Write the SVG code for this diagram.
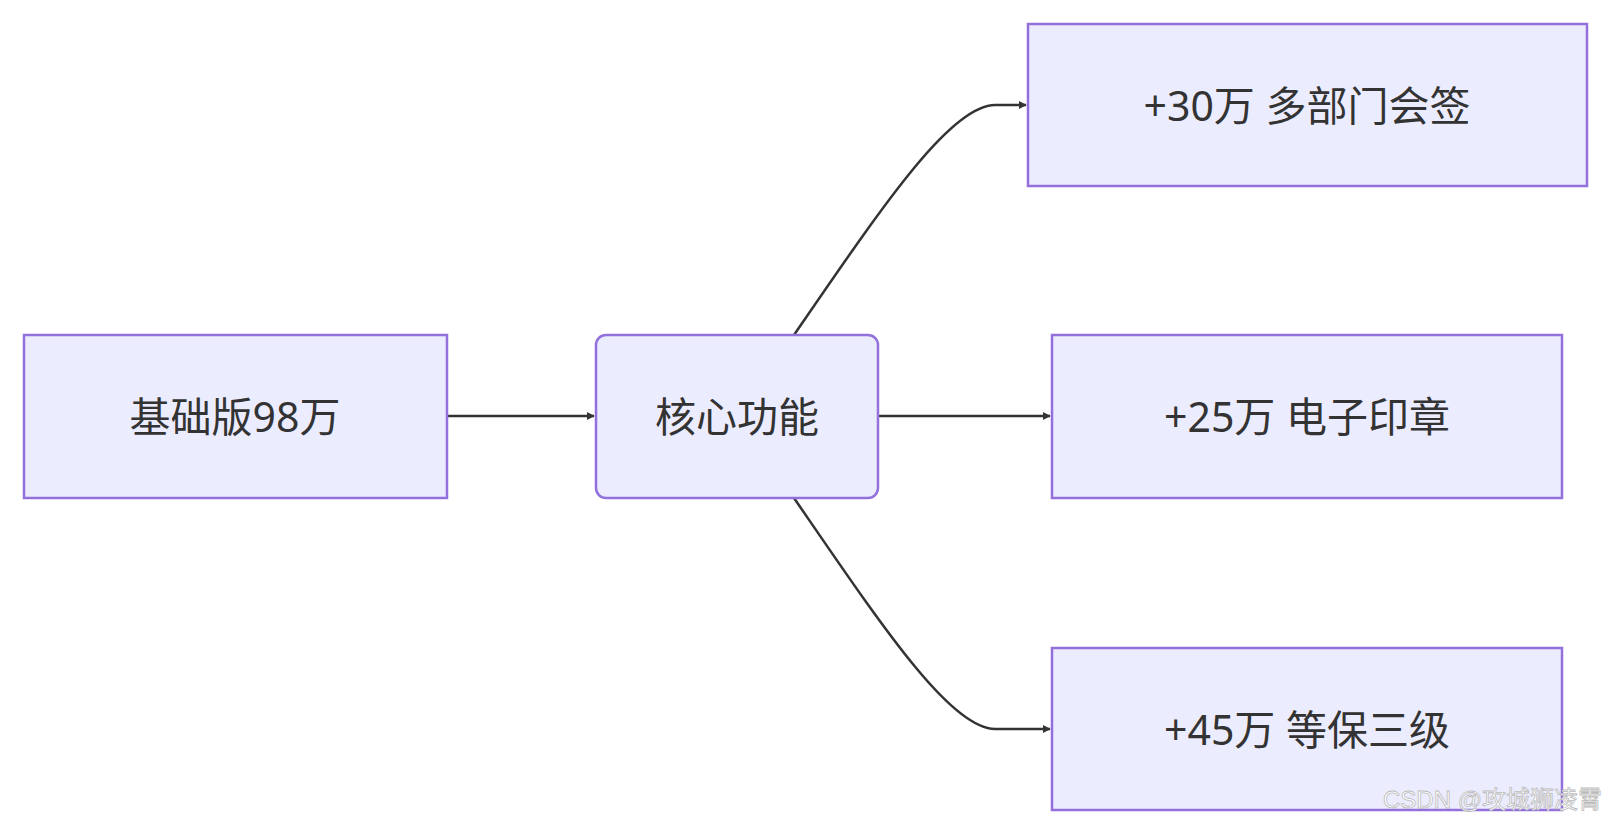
<svg xmlns="http://www.w3.org/2000/svg" width="1610" height="834" viewBox="0 0 1610 834">
<style>
.n{fill:#ECECFF;stroke:#9370DB;stroke-width:2.5}
.t{font-family:"Noto Sans","Noto Sans CJK SC",sans-serif;font-size:41px;fill:#333;text-anchor:middle;dominant-baseline:central}
.e{fill:none;stroke:#333;stroke-width:2.5}
</style>
<defs><marker id="a" viewBox="0 0 10 10" refX="9" refY="5" markerWidth="8" markerHeight="8" markerUnits="userSpaceOnUse" orient="auto"><path d="M0,0L10,5L0,10z" fill="#333"/></marker></defs>
<rect width="1610" height="834" fill="#fff"/>
<g id="edges">
<path class="e" marker-end="url(#a)" transform="scale(1)" d="M448,416H594" style="marker-end:url(#a)"/>
<path class="e" d="M879,416H1050" marker-end="url(#a)"/>
<path class="e" d="M794,335C880,210 950,105 995,105H1026" marker-end="url(#a)"/>
<path class="e" d="M794,498C880,623 950,729 995,729H1050" marker-end="url(#a)"/>
</g>
<g id="base"><rect class="n" x="24" y="335" width="423" height="163"/><text class="t" x="235" y="416">基础版98万</text></g>
<g id="core"><rect class="n" x="596" y="335" width="282" height="163" rx="10"/><text class="t" x="737" y="416">核心功能</text></g>
<g id="n1"><rect class="n" x="1028" y="24" width="559" height="162"/><text class="t" x="1307" y="105">+30万 多部门会签</text></g>
<g id="n2"><rect class="n" x="1052" y="335" width="510" height="163"/><text class="t" x="1307" y="416">+25万 电子印章</text></g>
<g id="n3"><rect class="n" x="1052" y="648" width="510" height="162"/><text class="t" x="1307" y="729">+45万 等保三级</text></g>
<text x="1602" y="808" font-family="Liberation Sans,'Noto Sans CJK SC',sans-serif" font-size="24" fill="#fff" stroke="#bbb" stroke-width="0.8" text-anchor="end">CSDN @攻城狮凌霄</text>
</svg>
